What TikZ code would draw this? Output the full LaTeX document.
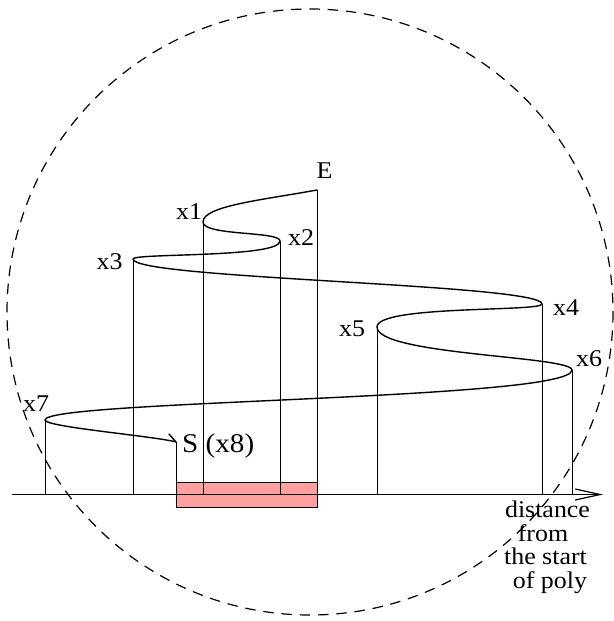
\documentclass[tikz,border=0pt]{standalone}
\usepackage{fontspec}
\setmainfont{Liberation Serif}[FakeStretch=1.08]
\usetikzlibrary{arrows.meta}
\definecolor{pinkfill}{RGB}{255,160,160}
\begin{document}
\begin{tikzpicture}[x=1pt,y=-1pt,
  curve/.style={line width=1.4pt, line join=round, line cap=round},
  drop/.style={line width=0.8pt},
  axisline/.style={line width=1.2pt, -{Straight Barb[length=25pt,width=11pt]}},
  ring/.style={line width=1.2pt, dash pattern=on 10.5pt off 7.8pt},
  segbox/.style={draw, line width=0.8pt, fill=pinkfill, inner sep=0pt, minimum width=141pt, minimum height=25pt, anchor=north west},
  lbl/.style={inner sep=0pt, anchor=base, font=\fontsize{24}{28}\selectfont},
  slbl/.style={inner sep=0pt, anchor=base west, font=\fontsize{27}{30}\selectfont},
  axlbl/.style={inner sep=0pt, anchor=base, font=\fontsize{24}{27}\selectfont}]
\useasboundingbox (0,0) rectangle (613,621);
% turning points
\coordinate (E) at (317,190);
\coordinate (x1) at (203,222);
\coordinate (x2) at (280,241);
\coordinate (x3) at (133,259);
\coordinate (x4) at (542,304);
\coordinate (x5) at (377,327);
\coordinate (x6) at (572,370);
\coordinate (x7) at (45,420);
\coordinate (S) at (176,442);
\coordinate (hook) at (169,434);
\coordinate (ax0) at (12,494.5);
\coordinate (ax1) at (603,494.5);
% highlighted segment
\node[segbox] (seg) at (176,482) {};
% drop lines
\foreach \p in {E,x1,x2,x3,x4,x5,x6,x7,S}
  \draw[drop] (\p) -- (\p |- ax0);
% axis
\draw[axisline] (ax0) -- (ax1);
% polyline curve
\draw[curve] (E) .. controls +(-55,10) and +(0,-16) .. (x1)
  .. controls +(0,14) and +(0,-10) .. (x2)
  .. controls +(0,17) and +(0,-6) .. (x3)
  .. controls +(0,20) and +(0,-20) .. (x4)
  .. controls +(0,8) and +(0,-22) .. (x5)
  .. controls +(0,28) and +(0,-14) .. (x6)
  .. controls +(0,30) and +(0,-20) .. (x7)
  .. controls +(0,7) and +(-22,-6) .. (S) -- (hook);
% labels
\node[lbl] (lE) at (324.5,178.5) {E};
\node[lbl] (l1) at (189,219) {x1};
\node[lbl] (l2) at (301,245) {x2};
\node[lbl] (l3) at (109.5,269) {x3};
\node[lbl] (l4) at (566,315) {x4};
\node[lbl] (l5) at (352,336) {x5};
\node[lbl] (l6) at (589,366) {x6};
\node[lbl] (l7) at (36,411) {x7};
\node[slbl] (lS) at (182,452) {S (x8)};
\node[axlbl] (d1) at (547.5,517) {distance};
\node[axlbl] (d2) at (543,541.5) {from};
\node[axlbl] (d3) at (545.5,564.5) {the start};
\node[axlbl] (d4) at (550,588) {of poly};
% dashed circle
\draw[ring] (310,312) circle[radius=303];
\end{tikzpicture}
\end{document}
